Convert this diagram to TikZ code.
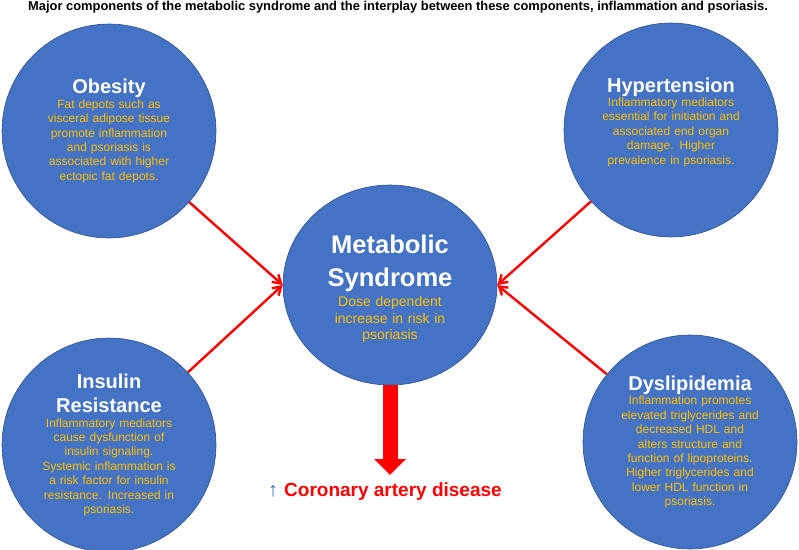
\documentclass[tikz,border=0pt]{standalone}
\usepackage{fontspec}
\setmainfont{Liberation Sans}
\usetikzlibrary{shapes.geometric,arrows.meta}
\definecolor{bubblue}{HTML}{4472C4}
\definecolor{bubedge}{HTML}{2F528F}
\definecolor{bubyellow}{HTML}{FFC000}
\definecolor{upblue}{HTML}{2E75B6}
\newcommand{\bubtitle}{\fontsize{20}{24}\selectfont\bfseries\color{white}}

\begin{document}
\begin{tikzpicture}[x=1pt, y=-1pt,
		bubble/.style={circle, draw=bubedge, line width=.6pt, fill=bubblue, minimum size=214pt, inner sep=0pt},
		bubtext/.style={text width=190pt, align=center, inner sep=0pt, text=bubyellow, font=\fontsize{12}{14.4}\selectfont},
		link/.style={draw=red, line width=2.4pt, -{Straight Barb[length=8pt,width=10pt]}},
		bigarrow/.style={draw=red, line width=15pt, -{Triangle[length=16pt,width=31pt]}}]
	\useasboundingbox (0,0) rectangle (799,549);
	\node[anchor=base] (title) at (398,10) {\fontsize{12.9}{14}\selectfont\bfseries Major components of the metabolic syndrome and the interplay between these components, inflammation and psoriasis.};
	\node[bubble] (obes) at (109,131) {};
	\node[bubble] (hyper) at (671,130) {};
	\node[bubble] (insul) at (109,445) {};
	\node[bubble] (dysl) at (690,442) {};
	\node[ellipse, draw=bubedge, line width=.6pt, fill=bubblue, minimum width=214pt, minimum height=200pt, inner sep=0pt] (metab) at (390,285) {};
	\node[bubtext] (obes-txt) at (obes) {{\bubtitle Obesity\par}
		Fat depots such as\\ visceral adipose tissue\\ promote inflammation\\ and psoriasis is\\ associated with higher\\ ectopic fat depots.};
	\node[bubtext, yshift=8pt] (hyper-txt) at (hyper) {{\bubtitle Hypertension\par}
		Inflammatory mediators\\ essential for initiation and\\ associated end organ\\ damage. Higher\\ prevalence in psoriasis.};
	\node[bubtext] (insul-txt) at (insul) {{\bubtitle Insulin\\ Resistance\par}
		Inflammatory mediators\\ cause dysfunction of\\ insulin signaling.\\ Systemic inflammation is\\ a risk factor for insulin\\ resistance. Increased in\\ psoriasis.};
	\node[bubtext] (dysl-txt) at (dysl) {{\bubtitle Dyslipidemia\par}
		Inflammation promotes\\ elevated triglycerides and\\ decreased HDL and\\ alters structure and\\ function of lipoproteins.\\ Higher triglycerides and\\ lower HDL function in\\ psoriasis.};
	\node[bubtext, font=\fontsize{14}{16.7}\selectfont, yshift=-4pt] (metab-txt) at (metab) {{\fontsize{25.5}{33}\selectfont\bfseries\color{white}Metabolic\\ Syndrome\par}\vspace{3pt}
		Dose dependent\\ increase in risk in\\ psoriasis};
	\draw[link] (obes) -- (metab.west);
	\draw[link] (insul) -- (metab.west);
	\draw[link] (hyper) -- (metab.east);
	\draw[link] (dysl) -- (metab.east);
	\coordinate (cad-tip) at (390,475);
	\draw[bigarrow] (metab.south) -- (cad-tip);
	\node[anchor=base west, inner sep=0pt] (cad) at (268,496) {{\fontsize{20}{22}\selectfont\color{upblue}↑}\hspace{6pt}{\fontsize{19}{22}\selectfont\bfseries\color{red}Coronary artery disease}};
\end{tikzpicture}
\end{document}
